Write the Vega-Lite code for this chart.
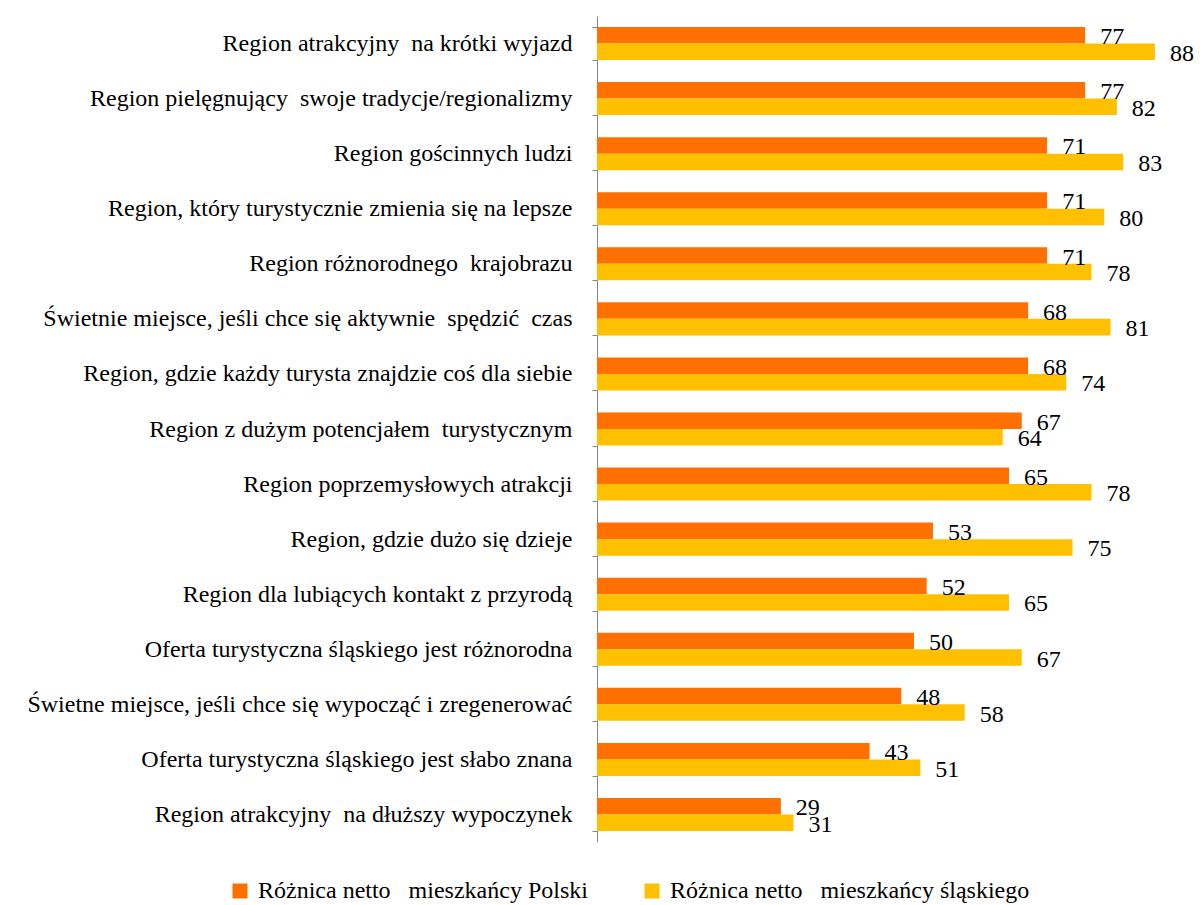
{
  "$schema": "https://vega.github.io/schema/vega-lite/v6.json",
  "width": 600,
  "height": 826,
  "autosize": "none",
  "padding": {"left": 597, "top": 16, "right": 3, "bottom": 63},
  "config": {
    "font": "Liberation Serif",
    "view": {"stroke": null}
  },
  "data": {
    "values": [
      {"cat": "Region atrakcyjny\u00a0 na krótki wyjazd", "series": "Różnica netto\u00a0 \u00a0mieszkańcy Polski", "value": 77},
      {"cat": "Region atrakcyjny\u00a0 na krótki wyjazd", "series": "Różnica netto\u00a0 \u00a0mieszkańcy śląskiego", "value": 88},
      {"cat": "Region pielęgnujący\u00a0 swoje tradycje/regionalizmy\u00a0", "series": "Różnica netto\u00a0 \u00a0mieszkańcy Polski", "value": 77},
      {"cat": "Region pielęgnujący\u00a0 swoje tradycje/regionalizmy\u00a0", "series": "Różnica netto\u00a0 \u00a0mieszkańcy śląskiego", "value": 82},
      {"cat": "Region gościnnych ludzi", "series": "Różnica netto\u00a0 \u00a0mieszkańcy Polski", "value": 71},
      {"cat": "Region gościnnych ludzi", "series": "Różnica netto\u00a0 \u00a0mieszkańcy śląskiego", "value": 83},
      {"cat": "Region, który turystycznie zmienia się na lepsze", "series": "Różnica netto\u00a0 \u00a0mieszkańcy Polski", "value": 71},
      {"cat": "Region, który turystycznie zmienia się na lepsze", "series": "Różnica netto\u00a0 \u00a0mieszkańcy śląskiego", "value": 80},
      {"cat": "Region różnorodnego\u00a0 krajobrazu", "series": "Różnica netto\u00a0 \u00a0mieszkańcy Polski", "value": 71},
      {"cat": "Region różnorodnego\u00a0 krajobrazu", "series": "Różnica netto\u00a0 \u00a0mieszkańcy śląskiego", "value": 78},
      {"cat": "Świetnie miejsce, jeśli chce się aktywnie\u00a0 spędzić\u00a0 czas", "series": "Różnica netto\u00a0 \u00a0mieszkańcy Polski", "value": 68},
      {"cat": "Świetnie miejsce, jeśli chce się aktywnie\u00a0 spędzić\u00a0 czas", "series": "Różnica netto\u00a0 \u00a0mieszkańcy śląskiego", "value": 81},
      {"cat": "Region, gdzie każdy turysta znajdzie coś dla siebie", "series": "Różnica netto\u00a0 \u00a0mieszkańcy Polski", "value": 68},
      {"cat": "Region, gdzie każdy turysta znajdzie coś dla siebie", "series": "Różnica netto\u00a0 \u00a0mieszkańcy śląskiego", "value": 74},
      {"cat": "Region z dużym potencjałem\u00a0 turystycznym", "series": "Różnica netto\u00a0 \u00a0mieszkańcy Polski", "value": 67},
      {"cat": "Region z dużym potencjałem\u00a0 turystycznym", "series": "Różnica netto\u00a0 \u00a0mieszkańcy śląskiego", "value": 64},
      {"cat": "Region poprzemysłowych atrakcji\u00a0", "series": "Różnica netto\u00a0 \u00a0mieszkańcy Polski", "value": 65},
      {"cat": "Region poprzemysłowych atrakcji\u00a0", "series": "Różnica netto\u00a0 \u00a0mieszkańcy śląskiego", "value": 78},
      {"cat": "Region, gdzie dużo się dzieje", "series": "Różnica netto\u00a0 \u00a0mieszkańcy Polski", "value": 53},
      {"cat": "Region, gdzie dużo się dzieje", "series": "Różnica netto\u00a0 \u00a0mieszkańcy śląskiego", "value": 75},
      {"cat": "Region dla lubiących kontakt z przyrodą", "series": "Różnica netto\u00a0 \u00a0mieszkańcy Polski", "value": 52},
      {"cat": "Region dla lubiących kontakt z przyrodą", "series": "Różnica netto\u00a0 \u00a0mieszkańcy śląskiego", "value": 65},
      {"cat": "Oferta turystyczna śląskiego jest różnorodna\u00a0", "series": "Różnica netto\u00a0 \u00a0mieszkańcy Polski", "value": 50},
      {"cat": "Oferta turystyczna śląskiego jest różnorodna\u00a0", "series": "Różnica netto\u00a0 \u00a0mieszkańcy śląskiego", "value": 67},
      {"cat": "Świetne miejsce, jeśli chce się wypocząć i zregenerować\u00a0", "series": "Różnica netto\u00a0 \u00a0mieszkańcy Polski", "value": 48},
      {"cat": "Świetne miejsce, jeśli chce się wypocząć i zregenerować\u00a0", "series": "Różnica netto\u00a0 \u00a0mieszkańcy śląskiego", "value": 58},
      {"cat": "Oferta turystyczna śląskiego jest słabo znana", "series": "Różnica netto\u00a0 \u00a0mieszkańcy Polski", "value": 43},
      {"cat": "Oferta turystyczna śląskiego jest słabo znana", "series": "Różnica netto\u00a0 \u00a0mieszkańcy śląskiego", "value": 51},
      {"cat": "Region atrakcyjny\u00a0 na dłuższy wypoczynek", "series": "Różnica netto\u00a0 \u00a0mieszkańcy Polski", "value": 29},
      {"cat": "Region atrakcyjny\u00a0 na dłuższy wypoczynek", "series": "Różnica netto\u00a0 \u00a0mieszkańcy śląskiego", "value": 31}
    ]
  },
  "encoding": {
    "y": {
      "field": "cat",
      "type": "nominal",
      "sort": null,
      "scale": {"paddingInner": 0.4, "paddingOuter": 0.2},
      "axis": {
        "title": null,
        "domainColor": "#868686",
        "tickColor": "#868686",
        "tickSize": 5,
        "tickBand": "extent",
        "labelFontSize": 24,
        "labelColor": "#000000",
        "labelPadding": 20,
        "labelLimit": 0
      }
    },
    "yOffset": {"field": "series", "type": "nominal", "sort": null},
    "x": {
      "field": "value",
      "type": "quantitative",
      "scale": {"domain": [0, 94.64], "nice": false},
      "axis": null
    }
  },
  "layer": [
    {
      "mark": {"type": "bar"},
      "encoding": {
        "color": {
          "field": "series",
          "type": "nominal",
          "sort": null,
          "scale": {
            "domain": ["Różnica netto\u00a0 \u00a0mieszkańcy Polski", "Różnica netto\u00a0 \u00a0mieszkańcy śląskiego"],
            "range": ["#FF7000", "#FFC000"]
          },
          "legend": {
            "title": null,
            "orient": "none",
            "direction": "horizontal",
            "columns": 2,
            "legendX": -369,
            "legendY": 863,
            "symbolType": "square",
            "symbolSize": 225,
            "symbolStrokeWidth": 0,
            "symbolOpacity": 1,
            "labelFontSize": 24,
            "labelColor": "#000000",
            "labelOffset": 6,
            "labelLimit": 0,
            "columnPadding": 52
          }
        }
      }
    },
    {
      "mark": {"type": "text", "align": "left", "baseline": "middle", "dx": 15, "dy": 2, "fontSize": 24, "color": "#000000"},
      "encoding": {
        "text": {"field": "value", "type": "quantitative"}
      }
    }
  ]
}
